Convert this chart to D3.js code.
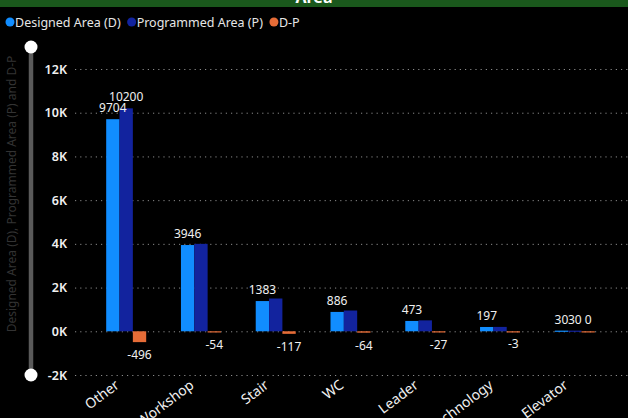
<!DOCTYPE html>
<html>
<head>
<meta charset="utf-8">
<script src="https://cdn.jsdelivr.net/npm/d3@7"></script>
<style>
  html, body { margin: 0; padding: 0; background: #000; }
  svg { display: block; font-family: "Noto Sans", "Open Sans", sans-serif; }
</style>
</head>
<body>
<svg width="628" height="418"></svg>
<script>
// chart data
const categories = ["Other", "Workshop", "Stair", "WC", "Leader", "Technology", "Elevator"];
const seriesNames = ["Designed Area (D)", "Programmed Area (P)", "D-P"];
const designed = [9704, 3946, 1383, 886, 473, 197, 30];
const programmed = [10200, 4000, 1500, 950, 500, 200, 30];
const diff = [-496, -54, -117, -64, -27, -3, 0];
const yTicks = [-2000, 0, 2000, 4000, 6000, 8000, 10000, 12000];
const colors = ["#118DFF", "#12239E", "#E66C37"];

const svg = d3.select("svg");
const W = 628;

// title band (mostly cut off at the top)
svg.append("rect").attr("x", 0).attr("y", 0).attr("width", W).attr("height", 7).attr("fill", "#1a581c");
svg.append("text").attr("x", W / 2).attr("y", 3).attr("text-anchor", "middle")
	.attr("fill", "#fff").attr("font-size", 16).attr("font-weight", "bold").text("Area");

// legend
let lx = 10;
seriesNames.forEach((name, i) => {
	svg.append("circle").attr("cx", lx).attr("cy", 22).attr("r", 4.5).attr("fill", colors[i]);
	const t = svg.append("text").attr("x", lx + 5).attr("y", 26.5).attr("fill", "#e6e6e6")
		.attr("font-size", 12.5).text(name);
	lx += 5 + t.node().getComputedTextLength() + 11;
});

// scales
const y = d3.scaleLinear().domain([-2000, 12000]).range([375, 69]);
const x0 = d3.scaleBand().domain(categories).range([88.8, 612.2]).paddingInner(0.465).paddingOuter(0.2325);
const x1 = d3.scaleBand().domain([0, 1, 2]).range([0, x0.bandwidth()]);

// y axis with dotted gridlines
const yAxis = svg.append("g").attr("transform", "translate(75,0)")
	.call(d3.axisLeft(y).tickValues(yTicks).tickSizeInner(-(W - 75)).tickSizeOuter(0).tickPadding(8)
		.tickFormat((d) => d / 1000 + "K"));
yAxis.select(".domain").remove();
yAxis.selectAll(".tick line").attr("stroke", "#8a8a8a").attr("stroke-dasharray", "1.2,4");
yAxis.selectAll(".tick text").attr("fill", "#f0f0f0").attr("font-size", 12.5).attr("font-weight", 600)
	.attr("font-family", "'Noto Sans', sans-serif");

// y-axis title
svg.append("text").attr("transform", "translate(16,194) rotate(-90)").attr("text-anchor", "middle")
	.attr("fill", "#333").attr("font-size", 12)
	.text("Designed Area (D), Programmed Area (P) and D-P");

// range slider
svg.append("line").attr("x1", 31).attr("x2", 31).attr("y1", 47).attr("y2", 375)
	.attr("stroke", "#5a5a5a").attr("stroke-width", 4.5);
[47, 375].forEach((cy) => {
	svg.append("circle").attr("cx", 31).attr("cy", cy).attr("r", 6.5).attr("fill", "#fff");
});

// bars
const rows = categories.map((c, i) => ({ cat: c, vals: [designed[i], programmed[i], diff[i]] }));
const groups = svg.selectAll(".grp").data(rows).join("g")
	.attr("class", "grp").attr("transform", (d) => `translate(${x0(d.cat)},0)`);

groups.selectAll("rect").data((d) => d.vals.map((v, k) => ({ v, k }))).join("rect")
	.attr("x", (d) => x1(d.k))
	.attr("width", x1.bandwidth())
	.attr("y", (d) => y(Math.max(0, d.v)))
	.attr("height", (d) => Math.max(Math.abs(y(d.v) - y(0)), 1.2))
	.attr("fill", (d) => colors[d.k]);

// data labels, hiding ones that collide
const labelLayer = svg.append("g");
rows.forEach((r) => {
	const boxes = [];
	r.vals.forEach((v, k) => {
		const cx = x0(r.cat) + x1(k) + x1.bandwidth() / 2;
		const base = v >= 0 ? y(v) - 7 : y(v) + 17;
		const t = labelLayer.append("text").attr("x", cx).attr("y", base).attr("text-anchor", "middle")
			.attr("fill", "#f0f0f0").attr("font-size", 12).text(v);
		const w = t.node().getComputedTextLength();
		const box = { x0: cx - w / 2, x1: cx + w / 2, y0: base - 9, y1: base };
		const hit = boxes.some((b) => box.x0 < b.x1 - 0.5 && box.x1 > b.x0 + 0.5 && box.y0 < b.y1 && box.y1 > b.y0);
		if (hit) t.remove();
		else boxes.push(box);
	});
});

// x axis labels
const xAxis = svg.append("g").attr("transform", "translate(-6,387)")
	.call(d3.axisBottom(x0).tickSize(0));
xAxis.select(".domain").remove();
xAxis.selectAll(".tick text").attr("x", 0).attr("y", 0).attr("dy", 0)
	.attr("transform", "rotate(-37)").attr("text-anchor", "end")
	.attr("fill", "#f0f0f0").attr("font-size", 14).attr("font-family", "'Noto Sans', sans-serif");
</script>
</body>
</html>
